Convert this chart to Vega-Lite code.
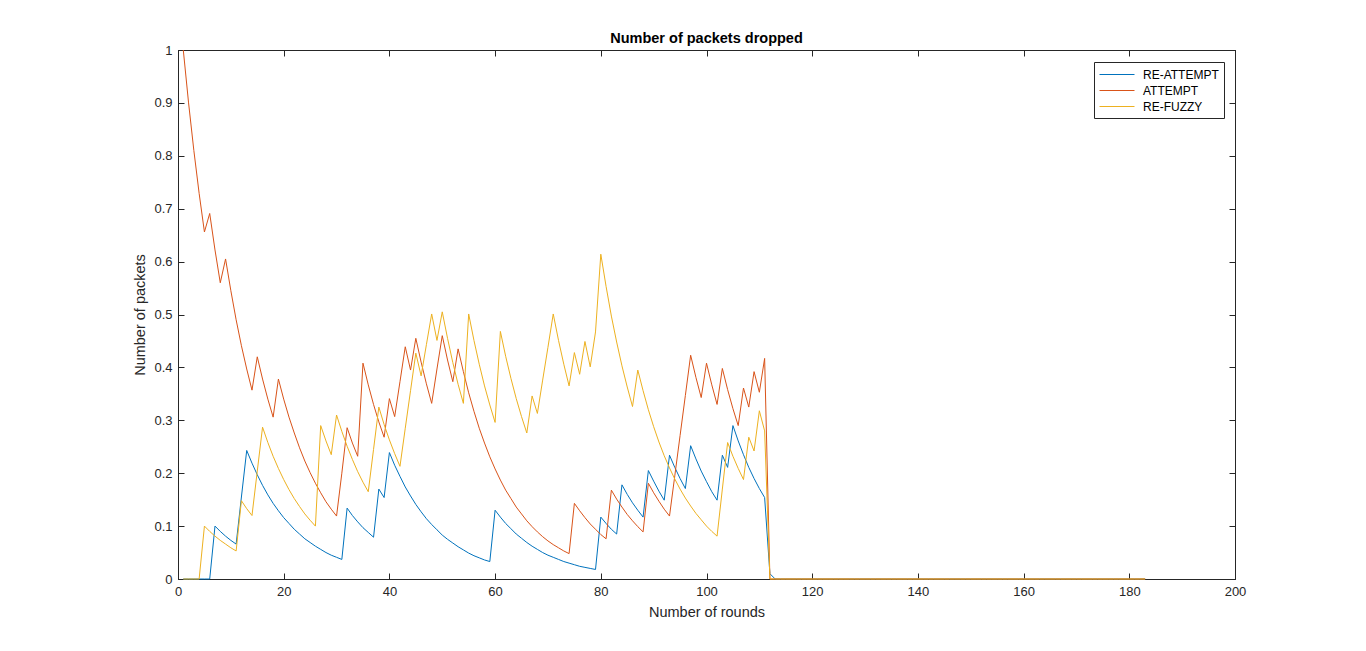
{
  "$schema": "https://vega.github.io/schema/vega-lite/v6.json",
  "autosize": "none",
  "width": 1057,
  "height": 529,
  "padding": {"left": 178, "top": 50, "right": 131, "bottom": 72},
  "background": "white",
  "title": {"text": "Number of packets dropped", "font": "Liberation Sans", "fontSize": 14.5, "fontWeight": "bold", "color": "#000000", "anchor": "middle", "offset": -2},
  "data": {"values": [
    {"r":1,"a":0,"b":1,"c":0},{"r":2,"a":0,"b":0.9,"c":0},{"r":3,"a":0,"b":0.81,"c":0},{"r":4,"a":0,"b":0.729,"c":0},
    {"r":5,"a":0,"b":0.656,"c":0.1},{"r":6,"a":0,"b":0.691,"c":0.09},{"r":7,"a":0.1,"b":0.622,"c":0.081},{"r":8,"a":0.09,"b":0.56,"c":0.073},
    {"r":9,"a":0.081,"b":0.605,"c":0.066},{"r":10,"a":0.073,"b":0.545,"c":0.059},{"r":11,"a":0.066,"b":0.49,"c":0.053},{"r":12,"a":0.155,"b":0.441,"c":0.148},
    {"r":13,"a":0.243,"b":0.397,"c":0.133},{"r":14,"a":0.219,"b":0.357,"c":0.12},{"r":15,"a":0.197,"b":0.42,"c":0.204},{"r":16,"a":0.177,"b":0.378,"c":0.287},
    {"r":17,"a":0.159,"b":0.34,"c":0.258},{"r":18,"a":0.143,"b":0.306,"c":0.232},{"r":19,"a":0.129,"b":0.378,"c":0.209},{"r":20,"a":0.116,"b":0.34,"c":0.188},
    {"r":21,"a":0.105,"b":0.306,"c":0.169},{"r":22,"a":0.094,"b":0.276,"c":0.152},{"r":23,"a":0.085,"b":0.248,"c":0.137},{"r":24,"a":0.076,"b":0.223,"c":0.123},
    {"r":25,"a":0.069,"b":0.201,"c":0.111},{"r":26,"a":0.062,"b":0.181,"c":0.1},{"r":27,"a":0.056,"b":0.163,"c":0.29},{"r":28,"a":0.05,"b":0.146,"c":0.261},
    {"r":29,"a":0.045,"b":0.132,"c":0.235},{"r":30,"a":0.041,"b":0.119,"c":0.31},{"r":31,"a":0.037,"b":0.2,"c":0.279},{"r":32,"a":0.134,"b":0.286,"c":0.251},
    {"r":33,"a":0.12,"b":0.257,"c":0.226},{"r":34,"a":0.108,"b":0.232,"c":0.203},{"r":35,"a":0.097,"b":0.408,"c":0.183},{"r":36,"a":0.088,"b":0.367,"c":0.165},
    {"r":37,"a":0.079,"b":0.33,"c":0.245},{"r":38,"a":0.17,"b":0.297,"c":0.325},{"r":39,"a":0.154,"b":0.268,"c":0.292},{"r":40,"a":0.239,"b":0.341,"c":0.263},
    {"r":41,"a":0.215,"b":0.307,"c":0.237},{"r":42,"a":0.194,"b":0.373,"c":0.213},{"r":43,"a":0.174,"b":0.439,"c":0.285},{"r":44,"a":0.157,"b":0.395,"c":0.356},
    {"r":45,"a":0.141,"b":0.455,"c":0.427},{"r":46,"a":0.127,"b":0.41,"c":0.384},{"r":47,"a":0.114,"b":0.369,"c":0.443},{"r":48,"a":0.103,"b":0.332,"c":0.501},
    {"r":49,"a":0.093,"b":0.397,"c":0.451},{"r":50,"a":0.083,"b":0.46,"c":0.505},{"r":51,"a":0.075,"b":0.414,"c":0.455},{"r":52,"a":0.068,"b":0.373,"c":0.409},
    {"r":53,"a":0.061,"b":0.435,"c":0.368},{"r":54,"a":0.055,"b":0.392,"c":0.332},{"r":55,"a":0.049,"b":0.352,"c":0.501},{"r":56,"a":0.044,"b":0.317,"c":0.451},
    {"r":57,"a":0.04,"b":0.285,"c":0.406},{"r":58,"a":0.036,"b":0.257,"c":0.365},{"r":59,"a":0.033,"b":0.231,"c":0.329},{"r":60,"a":0.13,"b":0.208,"c":0.296},
    {"r":61,"a":0.117,"b":0.187,"c":0.468},{"r":62,"a":0.105,"b":0.168,"c":0.421},{"r":63,"a":0.095,"b":0.152,"c":0.379},{"r":64,"a":0.085,"b":0.136,"c":0.341},
    {"r":65,"a":0.077,"b":0.123,"c":0.307},{"r":66,"a":0.069,"b":0.11,"c":0.276},{"r":67,"a":0.062,"b":0.099,"c":0.346},{"r":68,"a":0.056,"b":0.089,"c":0.313},
    {"r":69,"a":0.05,"b":0.08,"c":0.376},{"r":70,"a":0.045,"b":0.072,"c":0.438},{"r":71,"a":0.041,"b":0.065,"c":0.501},{"r":72,"a":0.037,"b":0.059,"c":0.451},
    {"r":73,"a":0.033,"b":0.053,"c":0.406},{"r":74,"a":0.03,"b":0.048,"c":0.365},{"r":75,"a":0.027,"b":0.143,"c":0.428},{"r":76,"a":0.024,"b":0.129,"c":0.387},
    {"r":77,"a":0.022,"b":0.116,"c":0.449},{"r":78,"a":0.02,"b":0.104,"c":0.401},{"r":79,"a":0.018,"b":0.094,"c":0.467},{"r":80,"a":0.117,"b":0.084,"c":0.614},
    {"r":81,"a":0.105,"b":0.076,"c":0.553},{"r":82,"a":0.094,"b":0.168,"c":0.497},{"r":83,"a":0.085,"b":0.151,"c":0.448},{"r":84,"a":0.178,"b":0.136,"c":0.403},
    {"r":85,"a":0.16,"b":0.122,"c":0.363},{"r":86,"a":0.144,"b":0.11,"c":0.326},{"r":87,"a":0.13,"b":0.099,"c":0.395},{"r":88,"a":0.117,"b":0.089,"c":0.356},
    {"r":89,"a":0.205,"b":0.181,"c":0.32},{"r":90,"a":0.185,"b":0.163,"c":0.288},{"r":91,"a":0.166,"b":0.147,"c":0.259},{"r":92,"a":0.149,"b":0.132,"c":0.233},
    {"r":93,"a":0.234,"b":0.119,"c":0.21},{"r":94,"a":0.211,"b":0.195,"c":0.189},{"r":95,"a":0.19,"b":0.271,"c":0.17},{"r":96,"a":0.171,"b":0.347,"c":0.153},
    {"r":97,"a":0.252,"b":0.423,"c":0.138},{"r":98,"a":0.227,"b":0.381,"c":0.124},{"r":99,"a":0.204,"b":0.343,"c":0.112},{"r":100,"a":0.184,"b":0.408,"c":0.1},
    {"r":101,"a":0.165,"b":0.367,"c":0.09},{"r":102,"a":0.149,"b":0.33,"c":0.081},{"r":103,"a":0.234,"b":0.398,"c":0.17},{"r":104,"a":0.211,"b":0.358,"c":0.258},
    {"r":105,"a":0.29,"b":0.322,"c":0.232},{"r":106,"a":0.261,"b":0.29,"c":0.209},{"r":107,"a":0.235,"b":0.361,"c":0.188},{"r":108,"a":0.211,"b":0.325,"c":0.268},
    {"r":109,"a":0.19,"b":0.392,"c":0.242},{"r":110,"a":0.171,"b":0.353,"c":0.318},{"r":111,"a":0.154,"b":0.417,"c":0.28},{"r":112,"a":0.01,"b":0,"c":0},
    {"r":113,"a":0,"b":0,"c":0},{"r":114,"a":0,"b":0,"c":0},{"r":115,"a":0,"b":0,"c":0},{"r":116,"a":0,"b":0,"c":0},{"r":117,"a":0,"b":0,"c":0},
    {"r":118,"a":0,"b":0,"c":0},{"r":119,"a":0,"b":0,"c":0},{"r":120,"a":0,"b":0,"c":0},{"r":121,"a":0,"b":0,"c":0},{"r":122,"a":0,"b":0,"c":0},
    {"r":123,"a":0,"b":0,"c":0},{"r":124,"a":0,"b":0,"c":0},{"r":125,"a":0,"b":0,"c":0},{"r":126,"a":0,"b":0,"c":0},{"r":127,"a":0,"b":0,"c":0},
    {"r":128,"a":0,"b":0,"c":0},{"r":129,"a":0,"b":0,"c":0},{"r":130,"a":0,"b":0,"c":0},{"r":131,"a":0,"b":0,"c":0},{"r":132,"a":0,"b":0,"c":0},
    {"r":133,"a":0,"b":0,"c":0},{"r":134,"a":0,"b":0,"c":0},{"r":135,"a":0,"b":0,"c":0},{"r":136,"a":0,"b":0,"c":0},{"r":137,"a":0,"b":0,"c":0},
    {"r":138,"a":0,"b":0,"c":0},{"r":139,"a":0,"b":0,"c":0},{"r":140,"a":0,"b":0,"c":0},{"r":141,"a":0,"b":0,"c":0},{"r":142,"a":0,"b":0,"c":0},
    {"r":143,"a":0,"b":0,"c":0},{"r":144,"a":0,"b":0,"c":0},{"r":145,"a":0,"b":0,"c":0},{"r":146,"a":0,"b":0,"c":0},{"r":147,"a":0,"b":0,"c":0},
    {"r":148,"a":0,"b":0,"c":0},{"r":149,"a":0,"b":0,"c":0},{"r":150,"a":0,"b":0,"c":0},{"r":151,"a":0,"b":0,"c":0},{"r":152,"a":0,"b":0,"c":0},
    {"r":153,"a":0,"b":0,"c":0},{"r":154,"a":0,"b":0,"c":0},{"r":155,"a":0,"b":0,"c":0},{"r":156,"a":0,"b":0,"c":0},{"r":157,"a":0,"b":0,"c":0},
    {"r":158,"a":0,"b":0,"c":0},{"r":159,"a":0,"b":0,"c":0},{"r":160,"a":0,"b":0,"c":0},{"r":161,"a":0,"b":0,"c":0},{"r":162,"a":0,"b":0,"c":0},
    {"r":163,"a":0,"b":0,"c":0},{"r":164,"a":0,"b":0,"c":0},{"r":165,"a":0,"b":0,"c":0},{"r":166,"a":0,"b":0,"c":0},{"r":167,"a":0,"b":0,"c":0},
    {"r":168,"a":0,"b":0,"c":0},{"r":169,"a":0,"b":0,"c":0},{"r":170,"a":0,"b":0,"c":0},{"r":171,"a":0,"b":0,"c":0},{"r":172,"a":0,"b":0,"c":0},
    {"r":173,"a":0,"b":0,"c":0},{"r":174,"a":0,"b":0,"c":0},{"r":175,"a":0,"b":0,"c":0},{"r":176,"a":0,"b":0,"c":0},{"r":177,"a":0,"b":0,"c":0},
    {"r":178,"a":0,"b":0,"c":0},{"r":179,"a":0,"b":0,"c":0},{"r":180,"a":0,"b":0,"c":0},{"r":181,"a":0,"b":0,"c":0},{"r":182,"a":0,"b":0,"c":0},
    {"r":183,"a":0,"b":0,"c":0}
  ]},
  "transform": [{"fold": ["a", "b", "c"], "as": ["k", "v"]}],
  "resolve": {"axis": {"x": "independent", "y": "independent"}},
  "layer": [
    {
      "mark": {"type": "line", "strokeWidth": 1, "interpolate": "linear"},
      "encoding": {
        "x": {"field": "r", "type": "quantitative", "scale": {"domain": [0, 200], "nice": false, "zero": false},
          "axis": {"orient": "bottom", "values": [0,20,40,60,80,100,120,140,160,180,200], "title": "Number of rounds",
            "titleX": 528.5, "titleY": 33, "titleBaseline": "middle", "titleAnchor": null}},
        "y": {"field": "v", "type": "quantitative", "scale": {"domain": [0, 1], "nice": false, "zero": false},
          "axis": {"orient": "left", "values": [0,0.1,0.2,0.3,0.4,0.5,0.6,0.7,0.8,0.9,1], "format": "~g", "title": "Number of packets",
            "titleX": -38, "titleY": 264.5, "titleBaseline": "middle", "titleAnchor": null}},
        "color": {"field": "k", "type": "nominal",
          "scale": {"domain": ["a", "b", "c"], "range": ["#0072BD", "#D95319", "#EDB120"]},
          "legend": {"orient": "none", "legendX": 916, "legendY": 12, "title": null,
            "labelExpr": "datum.label == 'a' ? 'RE-ATTEMPT' : datum.label == 'b' ? 'ATTEMPT' : 'RE-FUZZY'",
            "strokeColor": "#262626", "fillColor": "white", "padding": 5,
            "symbolType": "M-1,0H4", "symbolSize": 196, "symbolStrokeWidth": 1,
            "labelFont": "Liberation Sans", "labelFontSize": 12, "labelColor": "#000000", "labelOffset": 29, "rowPadding": 2}}
      }
    },
    {
      "mark": {"type": "line", "strokeWidth": 1, "opacity": 0},
      "encoding": {
        "x": {"field": "r", "type": "quantitative",
          "axis": {"orient": "top", "values": [0,20,40,60,80,100,120,140,160,180,200], "labels": false, "title": null}},
        "y": {"field": "v", "type": "quantitative",
          "axis": {"orient": "right", "values": [0,0.1,0.2,0.3,0.4,0.5,0.6,0.7,0.8,0.9,1], "labels": false, "title": null}},
        "detail": {"field": "k", "type": "nominal"}
      }
    }
  ],
  "config": {
    "view": {"stroke": "#262626", "strokeWidth": 1},
    "axis": {
      "domainColor": "#262626", "tickColor": "#262626", "tickSize": -6, "grid": false,
      "labelFont": "Liberation Sans", "labelFontSize": 13, "labelColor": "#262626", "labelPadding": 12,
      "labelFlush": false, "labelOverlap": false,
      "titleFont": "Liberation Sans", "titleFontSize": 14.5, "titleFontWeight": "normal", "titleColor": "#262626"
    }
  }
}
